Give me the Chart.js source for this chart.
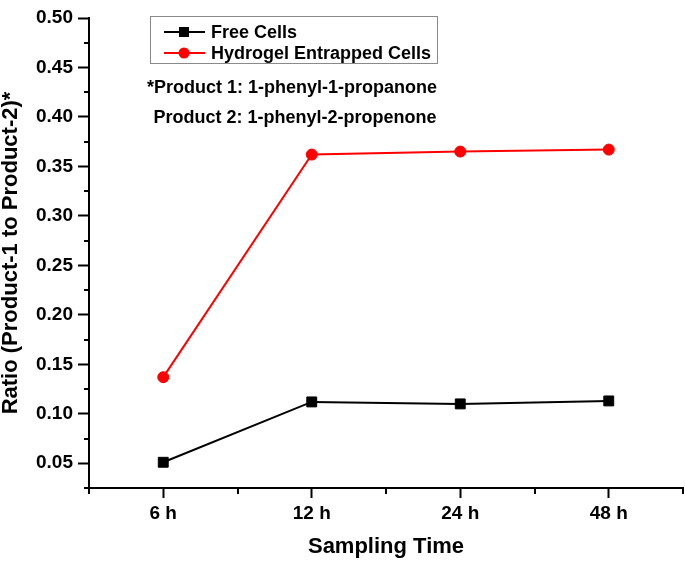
<!DOCTYPE html>
<html>
<head>
<meta charset="utf-8">
<script src="https://cdn.jsdelivr.net/npm/chart.js@4.4.0/dist/chart.umd.min.js"></script>
<style>
  html, body { margin: 0; padding: 0; background: #fff; overflow: hidden; }
  #wrap { width: 685px; height: 561px; position: relative; }
  canvas { display: block; }
</style>
</head>
<body>
<div id="wrap"><canvas id="ratioChart"></canvas></div>
<script>
// Data
const timeLabels = ['6 h', '12 h', '24 h', '48 h'];
const freeCells = [0.051, 0.112, 0.110, 0.113];
const hydrogelCells = [0.137, 0.362, 0.365, 0.367];
const yTicks = [0.05, 0.10, 0.15, 0.20, 0.25, 0.30, 0.35, 0.40, 0.45, 0.50];
const notes = ['*Product 1: 1-phenyl-1-propanone', 'Product 2: 1-phenyl-2-propenone'];

const FONT = '"Liberation Sans", Arial, sans-serif';

function toPoints(values) {
  return values.map((v, i) => ({ x: i + 1, y: v }));
}

function isMajorY(v) {
  return yTicks.some(t => Math.abs(t - v) < 1e-6);
}

function isMajorX(v) {
  return Math.abs(v - Math.round(v)) < 1e-6 && v >= 1 && v <= timeLabels.length;
}

// Short minor ticks, legend box and product notes
const extrasPlugin = {
  id: 'extras',
  afterDraw(chart) {
    const ctx = chart.ctx;
    const xs = chart.scales.x;
    const ys = chart.scales.y;
    ctx.save();
    ctx.strokeStyle = '#000';
    ctx.lineWidth = 2;
    ctx.beginPath();
    xs.ticks.forEach(t => {
      if (!isMajorX(t.value)) {
        const px = Math.round(xs.getPixelForValue(t.value));
        ctx.moveTo(px, ys.bottom);
        ctx.lineTo(px, ys.bottom + 6);
      }
    });
    ys.ticks.forEach(t => {
      if (!isMajorY(t.value)) {
        const py = Math.round(ys.getPixelForValue(t.value));
        ctx.moveTo(xs.left, py);
        ctx.lineTo(xs.left - 5, py);
      }
    });
    ctx.stroke();

    // legend
    ctx.lineWidth = 1;
    ctx.strokeStyle = '#8a8a8a';
    ctx.strokeRect(150.5, 16.5, 287, 47);
    ctx.font = 'bold 18px ' + FONT;
    ctx.textBaseline = 'middle';
    ctx.textAlign = 'left';
    const rows = [32, 53];
    chart.data.datasets.forEach((ds, i) => {
      const y = rows[i];
      ctx.strokeStyle = ds.borderColor;
      ctx.lineWidth = 2;
      ctx.beginPath();
      ctx.moveTo(164, y);
      ctx.lineTo(205, y);
      ctx.stroke();
      ctx.fillStyle = ds.backgroundColor;
      if (ds.pointStyle === 'rect') {
        ctx.fillRect(179, y - 5, 10, 10);
      } else {
        ctx.beginPath();
        ctx.arc(184, y, 5.5, 0, Math.PI * 2);
        ctx.fill();
      }
      ctx.fillStyle = '#000';
      ctx.fillText(ds.label, 211, y + 1);
    });

    // product notes
    ctx.textAlign = 'center';
    ctx.textBaseline = 'alphabetic';
    ctx.fillText(notes[0], 292, 93);
    ctx.fillText(notes[1], 295, 123);
    ctx.restore();
  }
};

new Chart(document.getElementById('ratioChart'), {
  type: 'line',
  data: {
    datasets: [
      {
        label: 'Free Cells',
        data: toPoints(freeCells),
        borderColor: '#000000',
        backgroundColor: '#000000',
        borderWidth: 2,
        pointStyle: 'rect',
        pointRadius: 7,
        pointBorderWidth: 1
      },
      {
        label: 'Hydrogel Entrapped Cells',
        data: toPoints(hydrogelCells),
        borderColor: '#ff0000',
        backgroundColor: '#ff0000',
        borderWidth: 2,
        pointStyle: 'circle',
        pointRadius: 5.5,
        pointBorderWidth: 1
      }
    ]
  },
  options: {
    responsive: true,
    maintainAspectRatio: false,
    animation: false,
    layout: { autoPadding: false, padding: { top: 18, right: 2, left: 0, bottom: 0 } },
    plugins: {
      legend: { display: false },
      tooltip: { enabled: false }
    },
    scales: {
      x: {
        type: 'linear',
        min: 0.5,
        max: 4.5,
        afterFit: s => { s.height = 73; s.paddingLeft = 0; s.paddingRight = 0; },
        border: { color: '#000', width: 2 },
        grid: {
          drawOnChartArea: false,
          drawTicks: true,
          tickLength: 10,
          tickWidth: 2,
          tickColor: c => isMajorX(c.tick.value) ? '#000' : 'rgba(0,0,0,0)'
        },
        ticks: {
          stepSize: 0.5,
          autoSkip: false,
          maxRotation: 0,
          padding: 4,
          color: '#000',
          font: { family: FONT, size: 19, weight: 'bold' },
          callback: v => isMajorX(v) ? timeLabels[Math.round(v) - 1] : ''
        },
        title: {
          display: true,
          text: 'Sampling Time',
          color: '#000',
          font: { family: FONT, size: 22, weight: 'bold', lineHeight: '22px' },
          padding: { top: 0, bottom: 3 }
        }
      },
      y: {
        min: 0.025,
        max: 0.5,
        afterFit: s => { s.width = 89; s.paddingTop = 0; s.paddingBottom = 0; },
        border: { color: '#000', width: 2 },
        grid: {
          drawOnChartArea: false,
          drawTicks: true,
          tickLength: 11,
          tickWidth: 2,
          tickColor: c => isMajorY(c.tick.value) ? '#000' : 'rgba(0,0,0,0)'
        },
        ticks: {
          stepSize: 0.025,
          autoSkip: false,
          padding: 5,
          color: '#000',
          font: { family: FONT, size: 19, weight: 'bold' },
          callback: v => isMajorY(v) ? v.toFixed(2) : ''
        },
        title: {
          display: true,
          text: 'Ratio (Product-1 to Product-2)*',
          color: '#000',
          font: { family: FONT, size: 22, weight: 'bold', lineHeight: '22px' },
          padding: { top: 0, bottom: 0 }
        }
      }
    }
  },
  plugins: [extrasPlugin]
});
</script>
</body>
</html>
